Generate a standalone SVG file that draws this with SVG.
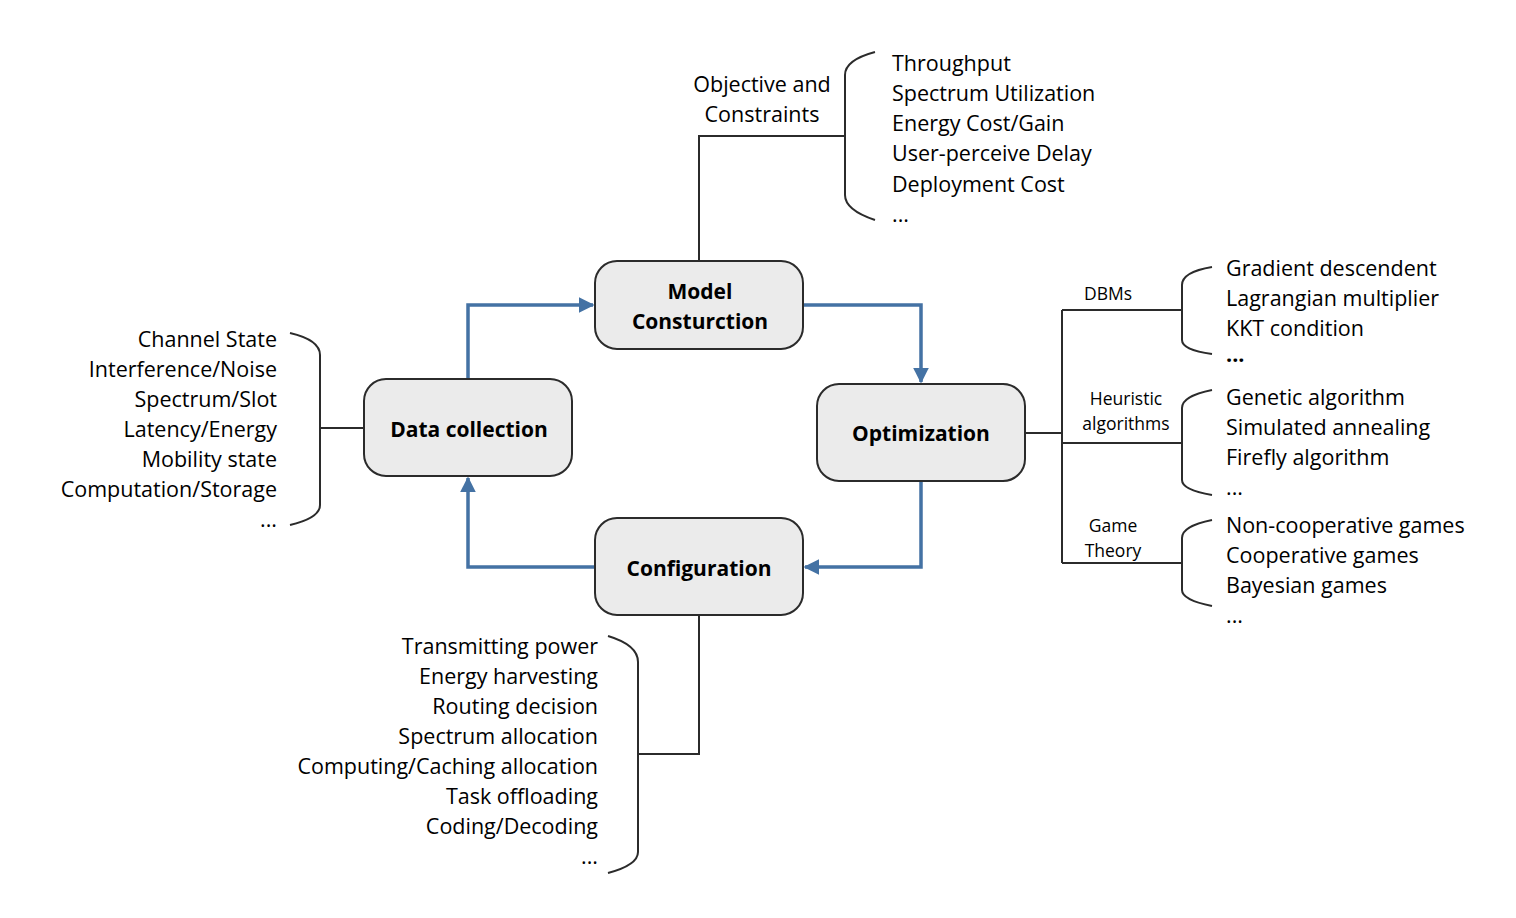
<svg xmlns="http://www.w3.org/2000/svg" width="1516" height="918" viewBox="0 0 1516 918">
<style>
.node{fill:#ebebeb;stroke:#2b2b2b;stroke-width:2}
.nt{font-family:"Open Sans","Liberation Sans",sans-serif;font-weight:bold;font-size:21px;fill:#000;text-anchor:middle}
.t{font-family:"Open Sans","Liberation Sans",sans-serif;font-size:21.5px;fill:#000}
.s{font-family:"Open Sans","Liberation Sans",sans-serif;font-size:17.5px;fill:#000;text-anchor:middle}
.r{text-anchor:end}
.blk{fill:none;stroke:#2b2b2b;stroke-width:2}
.blue{fill:none;stroke:#4472a4;stroke-width:3.5}
</style>
<defs>
<marker id="ah" viewBox="0 0 10 10" refX="9" refY="5" markerWidth="4.5" markerHeight="4.5" markerUnits="strokeWidth" orient="auto">
<path d="M0,0 L10,5 L0,10 z" fill="#4472a4"/>
</marker>
</defs>
<g id="connectors">
<path class="blue" d="M468,379 V305 H593" marker-end="url(#ah)"/>
<path class="blue" d="M803,305 H921 V382" marker-end="url(#ah)"/>
<path class="blue" d="M921,481 V567 H805" marker-end="url(#ah)"/>
<path class="blue" d="M595,567 H468 V478" marker-end="url(#ah)"/>
<path class="blk" d="M699,261 V136 H845"/>
<path class="blk" d="M875,52 Q845,60 845,75 V195 Q845,210 875,220"/>
<path class="blk" d="M364,428 H320"/>
<path class="blk" d="M290,333 Q320,340 320,355 V505 Q320,518 290,525"/>
<path class="blk" d="M699,615 V754 H638"/>
<path class="blk" d="M608,636 Q638,645 638,662 V852 Q638,865 608,873"/>
<path class="blk" d="M1025,433 H1062 M1062,310 V563 M1062,310 H1182 M1062,443 H1182 M1062,563 H1182"/>
<path class="blk" d="M1212,267 Q1182,272 1182,285 V340 Q1182,350 1212,354"/>
<path class="blk" d="M1212,390 Q1182,396 1182,408 V480 Q1182,490 1212,495"/>
<path class="blk" d="M1212,520 Q1182,526 1182,538 V590 Q1182,600 1212,606"/>
</g>
<g id="model">
<rect class="node" x="595" y="261" width="208" height="88" rx="22"/>
<text class="nt" x="700" y="299">Model</text>
<text class="nt" x="700" y="329">Consturction</text>
</g>
<g id="data">
<rect class="node" x="364" y="379" width="208" height="97" rx="22"/>
<text class="nt" x="469" y="437">Data collection</text>
</g>
<g id="optimization">
<rect class="node" x="817" y="384" width="208" height="97" rx="22"/>
<text class="nt" x="921" y="441">Optimization</text>
</g>
<g id="configuration">
<rect class="node" x="595" y="518" width="208" height="97" rx="22"/>
<text class="nt" x="699" y="576">Configuration</text>
</g>
<g id="objective">
<text class="t" x="762" y="92" text-anchor="middle">Objective and</text>
<text class="t" x="762" y="122" text-anchor="middle">Constraints</text>
<text class="t" x="892" y="71">Throughput</text>
<text class="t" x="892" y="101">Spectrum Utilization</text>
<text class="t" x="892" y="131">Energy Cost/Gain</text>
<text class="t" x="892" y="161">User-perceive Delay</text>
<text class="t" x="892" y="192">Deployment Cost</text>
<text class="t" x="892" y="222">...</text>
</g>
<g id="datalist">
<text class="t r" x="277" y="347">Channel State</text>
<text class="t r" x="277" y="377">Interference/Noise</text>
<text class="t r" x="277" y="407">Spectrum/Slot</text>
<text class="t r" x="277" y="437">Latency/Energy</text>
<text class="t r" x="277" y="467">Mobility state</text>
<text class="t r" x="277" y="497">Computation/Storage</text>
<text class="t r" x="277" y="527">...</text>
</g>
<g id="configlist">
<text class="t r" x="598" y="654">Transmitting power</text>
<text class="t r" x="598" y="684">Energy harvesting</text>
<text class="t r" x="598" y="714">Routing decision</text>
<text class="t r" x="598" y="744">Spectrum allocation</text>
<text class="t r" x="598" y="774">Computing/Caching allocation</text>
<text class="t r" x="598" y="804">Task offloading</text>
<text class="t r" x="598" y="834">Coding/Decoding</text>
<text class="t r" x="598" y="864">...</text>
</g>
<g id="dbms">
<text class="s" x="1108" y="300">DBMs</text>
<text class="t" x="1226" y="276">Gradient descendent</text>
<text class="t" x="1226" y="306">Lagrangian multiplier</text>
<text class="t" x="1226" y="336">KKT condition</text>
<text class="t" x="1226" y="362" font-weight="bold">...</text>
</g>
<g id="heuristic">
<text class="s" x="1126" y="405">Heuristic</text>
<text class="s" x="1126" y="430">algorithms</text>
<text class="t" x="1226" y="405">Genetic algorithm</text>
<text class="t" x="1226" y="435">Simulated annealing</text>
<text class="t" x="1226" y="465">Firefly algorithm</text>
<text class="t" x="1226" y="495">...</text>
</g>
<g id="game">
<text class="s" x="1113" y="532">Game</text>
<text class="s" x="1113" y="557">Theory</text>
<text class="t" x="1226" y="533">Non-cooperative games</text>
<text class="t" x="1226" y="563">Cooperative games</text>
<text class="t" x="1226" y="593">Bayesian games</text>
<text class="t" x="1226" y="623">...</text>
</g>
</svg>
